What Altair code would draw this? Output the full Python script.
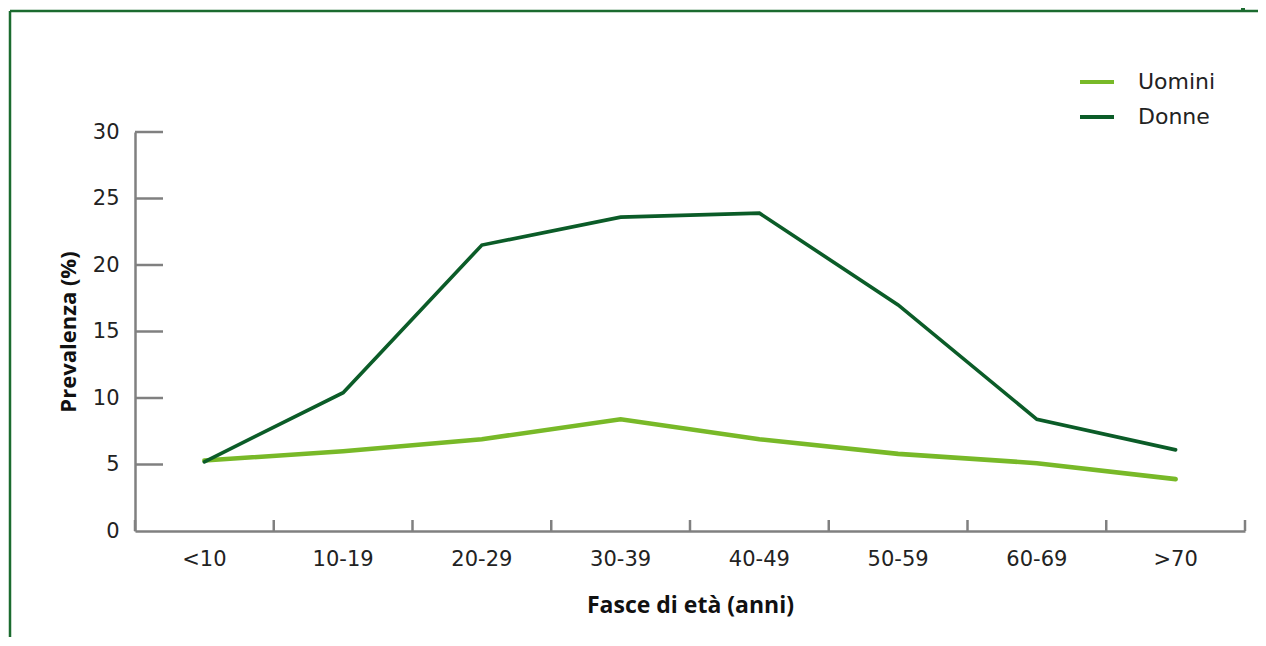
import altair as alt
import pandas as pd

categories = ["<10", "10-19", "20-29", "30-39", "40-49", "50-59", "60-69", ">70"]
uomini = [5.3, 6.0, 6.9, 8.4, 6.9, 5.8, 5.1, 3.9]
donne = [5.2, 10.4, 21.5, 23.6, 23.9, 17.0, 8.4, 6.1]
series = ["Uomini", "Donne"]
colors = ["#78b928", "#0b5c28"]
y_ticks = [5, 10, 15, 20, 25, 30]

rows = []
for c, u, d in zip(categories, uomini, donne):
    rows.append({"cat": c, "serie": "Uomini", "val": u})
    rows.append({"cat": c, "serie": "Donne", "val": d})
df = pd.DataFrame(rows)

FONT = "DejaVu Sans"
TFONT = "Open Sans"
GRAY = "#808080"
FRAME = "#1b6b2f"
W, H = 1110, 399

xscale = alt.Scale(type="band", domain=categories, paddingInner=0, paddingOuter=0)
yscale = alt.Scale(domain=[0, 30], nice=False)
cscale = alt.Scale(domain=series, range=colors)

legend = alt.Legend(title=None, orient="none", legendX=943, legendY=-69,
                    symbolType="stroke", symbolSize=1156, symbolStrokeWidth=4,
                    labelFont=FONT, labelFontSize=22, labelColor="#222222",
                    labelOffset=22, rowPadding=5)

xaxis = alt.Axis(title="Fasce di età (anni)", ticks=False, labelAngle=0, bandPosition=0.5,
                 labelAlign="center",
                 domainColor=GRAY, domainWidth=2.5, labelFont=FONT,
                 labelFontSize=21, labelColor="#222222", labelPadding=17,
                 titleFont=TFONT, titleFontSize=23, titleFontWeight="bold",
                 titleColor="#111111", titlePadding=25, grid=False)
yaxis = alt.Axis(title="Prevalenza (%)", values=[0, 5, 10, 15, 20, 25, 30],
                 ticks=False, domainColor=GRAY, domainWidth=2.5,
                 labelFont=FONT, labelFontSize=21, labelColor="#222222",
                 labelPadding=16, titleFont=TFONT, titleFontSize=22,
                 titleFontWeight="bold", titleColor="#111111",
                 titlePadding=12, grid=False)

base = alt.Chart(df).encode(
    x=alt.X("cat:N", scale=xscale, bandPosition=0.5, sort=categories, axis=xaxis,
            title="Fasce di età (anni)"),
    y=alt.Y("val:Q", scale=yscale, axis=yaxis, title="Prevalenza (%)"),
    color=alt.Color("serie:N", scale=cscale, legend=legend),
    detail="serie:N",
)

line_u = base.transform_filter(alt.datum.serie == "Uomini").mark_line(
    strokeWidth=4.6, strokeCap="round")
line_d = base.transform_filter(alt.datum.serie == "Donne").mark_line(
    strokeWidth=3.6, strokeCap="round")

ytick_df = pd.DataFrame({"v": y_ticks})
yticks = alt.Chart(ytick_df).mark_rule(color=GRAY, strokeWidth=2.5).encode(
    y=alt.Y("v:Q", scale=yscale, axis=yaxis, title="Prevalenza (%)"),
    x=alt.value(0),
    x2=alt.value(28),
)

xb_df = pd.DataFrame({"cat": categories})
xticks = alt.Chart(xb_df).mark_rule(color=GRAY, strokeWidth=2.5).encode(
    x=alt.X("cat:N", scale=xscale, bandPosition=0, sort=categories, axis=xaxis,
            title="Fasce di età (anni)"),
    y=alt.value(H),
    y2=alt.value(H - 11),
)
xlast = alt.Chart(pd.DataFrame({"cat": [categories[-1]]})).mark_rule(
    color=GRAY, strokeWidth=2.5).encode(
    x=alt.X("cat:N", scale=xscale, bandPosition=1, sort=categories, axis=xaxis,
            title="Fasce di età (anni)"),
    y=alt.value(H),
    y2=alt.value(H - 11),
)

frame_df = pd.DataFrame({"k": [0]})
frame_top = alt.Chart(frame_df).mark_rule(color=FRAME, strokeWidth=2.5, clip=False).encode(
    x=alt.value(-125), x2=alt.value(1140), y=alt.value(-121))
frame_left = alt.Chart(frame_df).mark_rule(color=FRAME, strokeWidth=2.5, clip=False).encode(
    x=alt.value(-125), y=alt.value(-121), y2=alt.value(520))
frame_tick = alt.Chart(frame_df).mark_rule(color=FRAME, strokeWidth=4, clip=False).encode(
    x=alt.value(1108), y=alt.value(-140), y2=alt.value(-121))

chart = alt.layer(line_u, line_d, frame_top, frame_left, frame_tick, yticks, xticks,
                  xlast).properties(
    width=W, height=H,
    autosize=alt.AutoSizeParams(type="none"),
    padding={"left": 127, "top": 124, "right": 13, "bottom": 106},
).configure(background="white").configure_view(stroke=None)

chart.save("out.html", embed_options={"renderer": "svg", "actions": False})
